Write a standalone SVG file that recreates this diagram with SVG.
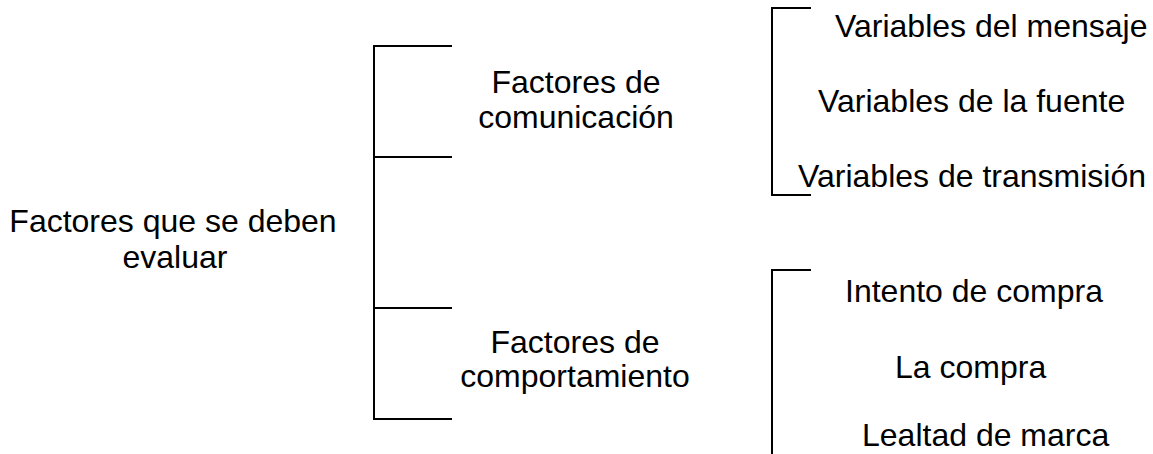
<svg xmlns="http://www.w3.org/2000/svg" width="1153" height="454" viewBox="0 0 1153 454">
<style>
.t{font-family:"Liberation Sans",Arial,sans-serif;font-size:32px;fill:#000}
.c{text-anchor:middle}
.ln{stroke:#000;stroke-width:2;fill:none}
</style>
<rect width="1153" height="454" fill="#fff"/>
<g id="connectors">
<path class="ln" d="M452,46 H374 V419 H452 M374,157 H452 M374,308 H452"/>
<path class="ln" d="M811,8 H772 V195 H811"/>
<path class="ln" d="M811,270 H772 V454"/>
</g>
<g id="root"><text class="t c" x="173" y="232">Factores que se deben</text><text class="t c" x="175" y="268">evaluar</text></g>
<g id="comunicacion"><text class="t c" x="576" y="93">Factores de</text><text class="t c" x="576" y="128">comunicación</text></g>
<g id="comportamiento"><text class="t c" x="575" y="353">Factores de</text><text class="t c" x="575" y="387">comportamiento</text></g>
<g id="mensaje"><text class="t" x="835" y="37">Variables del mensaje</text></g>
<g id="fuente"><text class="t" x="818" y="112">Variables de la fuente</text></g>
<g id="transmision"><text class="t" x="798" y="187">Variables de transmisión</text></g>
<g id="intento"><text class="t" x="845" y="302">Intento de compra</text></g>
<g id="compra"><text class="t" x="895" y="378">La compra</text></g>
<g id="lealtad"><text class="t" x="862" y="446">Lealtad de marca</text></g>
</svg>
